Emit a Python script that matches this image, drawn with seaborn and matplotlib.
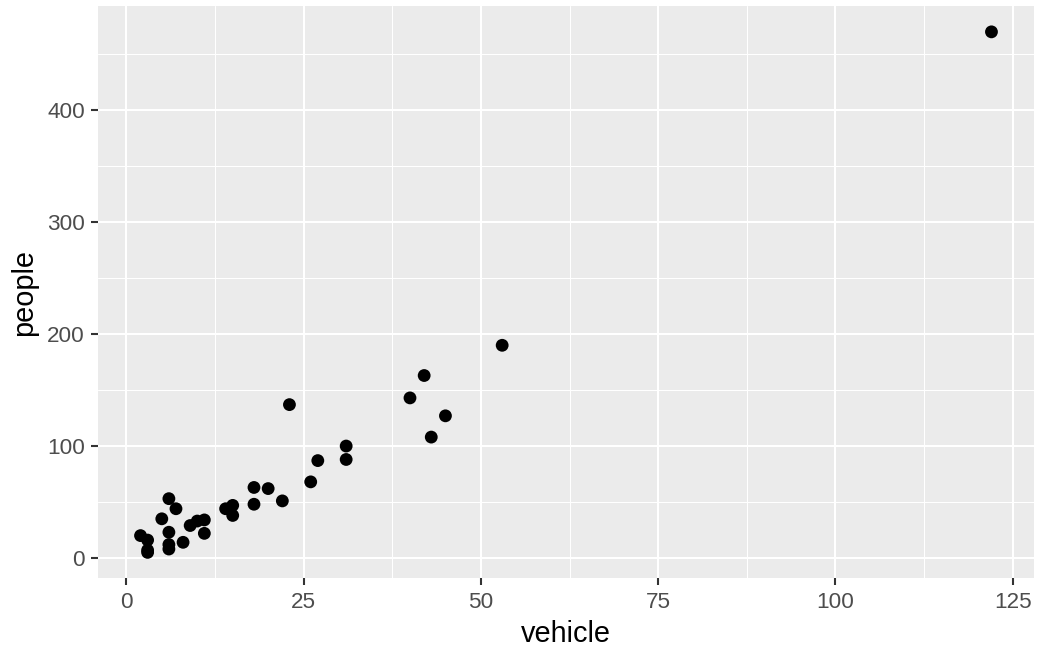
import seaborn as sns
import matplotlib.pyplot as plt
import pandas as pd

# values
vehicle = [2, 3, 3, 3, 5, 6, 6, 6, 6, 7, 8, 9, 10, 11, 11, 14, 15, 15,
           18, 18, 20, 22, 23, 26, 27, 31, 31, 40, 42, 43, 45, 53, 122]
people = [20, 16, 7, 5, 35, 53, 23, 12, 8, 44, 14, 29, 33, 34, 22, 44, 47, 38,
          63, 48, 62, 51, 137, 68, 87, 100, 88, 143, 163, 108, 127, 190, 470]
x_ticks = [0, 25, 50, 75, 100, 125]
y_ticks = [0, 100, 200, 300, 400]

df = pd.DataFrame({"vehicle": vehicle, "people": people})

sns.set_style("white")
plt.rcParams["font.family"] = ["Liberation Sans", "DejaVu Sans"]

fig, ax = plt.subplots(figsize=(10.39, 6.47), dpi=100)
fig.subplots_adjust(left=0.0943, right=0.9952, top=0.991, bottom=0.106)

sns.scatterplot(data=df, x="vehicle", y="people", color="black", s=85,
                edgecolor="none", ax=ax, zorder=3)

ax.set_facecolor("#EBEBEB")
for s in ax.spines.values():
    s.set_visible(False)

ax.set_xlim(-4, 128)
ax.set_ylim(-18.25, 493.25)
ax.set_xticks(x_ticks)
ax.set_yticks(y_ticks)
ax.set_xticks([12.5, 37.5, 62.5, 87.5, 112.5], minor=True)
ax.set_yticks([50, 150, 250, 350, 450], minor=True)
ax.grid(which="major", color="white", linewidth=1.5)
ax.grid(which="minor", color="white", linewidth=0.75)
ax.set_axisbelow(True)

ax.tick_params(which="major", length=5, width=1.5, color="#333333",
               labelcolor="#4D4D4D", labelsize=16.2, pad=4.5,
               bottom=True, left=True)
ax.tick_params(which="minor", length=0)

ax.set_xlabel("vehicle", fontsize=20.8, color="black", labelpad=5)
ax.set_ylabel("people", fontsize=20.8, color="black", labelpad=6)

plt.savefig("out.png", dpi=100)
